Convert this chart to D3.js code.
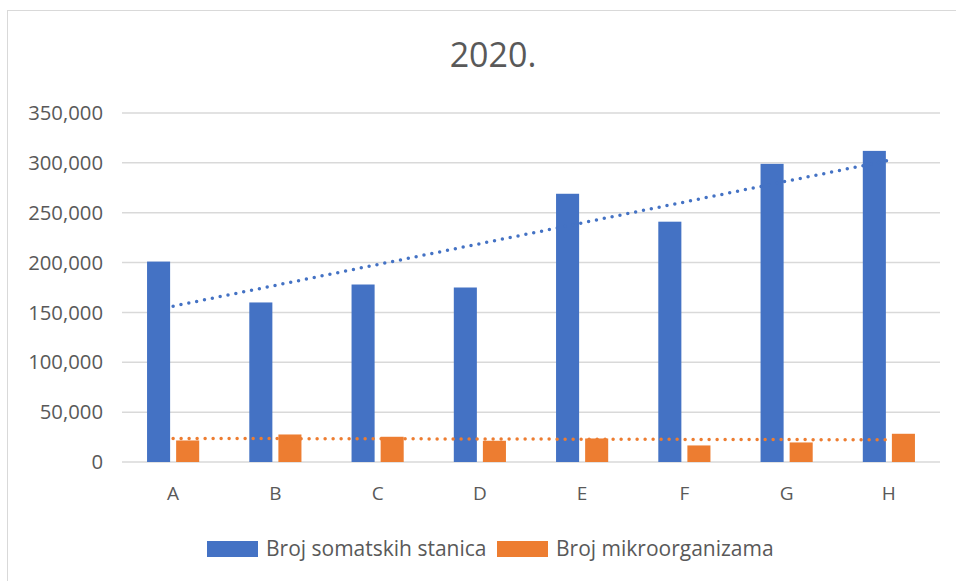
<!DOCTYPE html>
<html>
<head>
    <script src="https://d3js.org/d3.v7.min.js"></script>
    <title>2020.</title>
</head>
<style>
    body { margin: 0; background-color: white; }
    text { font-family: 'Open Sans', sans-serif; fill: #595959; }
</style>
<body>
<div id="chart"></div>
</body>
</html>

<script>
  // DATA
  var categories = ["A", "B", "C", "D", "E", "F", "G", "H"];
  var seriesNames = ["Broj somatskih stanica", "Broj mikroorganizama"];
  var somatske = [201000, 160000, 178000, 175000, 269000, 241000, 299000, 312000];
  var mikroorg = [21600, 27600, 25300, 21300, 23600, 16600, 19600, 28300];
  var yTicks = [0, 50000, 100000, 150000, 200000, 250000, 300000, 350000];
  var colors = ["#4472C4", "#ED7D31"];

  var width = 956, height = 581;
  var svg = d3.select("#chart").append("svg")
      .attr("width", width)
      .attr("height", height)
      .style("display", "block");

  // chart frame
  svg.append("rect")
      .attr("x", 7.5).attr("y", 10.5)
      .attr("width", 960).attr("height", 590)
      .attr("fill", "white")
      .attr("stroke", "#d9d9d9");

  //SCALES
  var x0 = d3.scaleBand().domain(categories).range([122, 940]);
  var groupW = x0.bandwidth() * 0.51;
  var x1 = d3.scaleBand().domain(seriesNames).range([0, groupW]).paddingInner(0.207);
  var y = d3.scaleLinear().domain([0, 350000]).range([462, 113]);

  //GRIDLINES
  svg.selectAll(".grid")
      .data(yTicks)
      .enter()
      .append("line")
      .attr("x1", 122).attr("x2", 940)
      .attr("y1", function(d) { return y(d); })
      .attr("y2", function(d) { return y(d); })
      .attr("stroke", "#d9d9d9")
      .attr("stroke-width", 1.5);

  //Y AXIS LABELS
  var fmt = d3.format(",");
  svg.selectAll(".ylab")
      .data(yTicks)
      .enter()
      .append("text")
      .attr("x", 103)
      .attr("y", function(d) { return y(d); })
      .attr("dy", "0.35em")
      .attr("text-anchor", "end")
      .style("font-size", "20.3px")
      .text(function(d) { return fmt(d); });

  //X AXIS LABELS
  svg.selectAll(".xlab")
      .data(categories)
      .enter()
      .append("text")
      .attr("x", function(d) { return x0(d) + x0.bandwidth() / 2; })
      .attr("y", 493)
      .attr("dy", "0.35em")
      .attr("text-anchor", "middle")
      .style("font-size", "19px")
      .text(function(d) { return d; });

  //BARS
  var seriesData = [somatske, mikroorg];
  seriesData.forEach(function(values, si) {
      svg.selectAll(".bar" + si)
          .data(values)
          .enter()
          .append("rect")
          .attr("x", function(d, i) {
              return x0(categories[i]) + (x0.bandwidth() - groupW) / 2 + x1(seriesNames[si]);
          })
          .attr("y", function(d) { return y(d); })
          .attr("width", x1.bandwidth())
          .attr("height", function(d) { return y(0) - y(d); })
          .attr("fill", colors[si]);
  });

  //TRENDLINES (linear least squares)
  function trend(values) {
      var n = values.length;
      var mx = d3.mean(values, function(d, i) { return i; });
      var my = d3.mean(values);
      var num = 0, den = 0;
      values.forEach(function(v, i) { num += (i - mx) * (v - my); den += (i - mx) * (i - mx); });
      var slope = num / den;
      return [0, n - 1].map(function(i) { return { i: i, v: my + slope * (i - mx) }; });
  }

  var trendLine = d3.line()
      .x(function(d) { return x0(categories[d.i]) + x0.bandwidth() / 2; })
      .y(function(d) { return y(d.v); });

  seriesData.forEach(function(values, si) {
      svg.append("path")
          .attr("d", trendLine(trend(values)))
          .attr("fill", "none")
          .attr("stroke", colors[si])
          .attr("stroke-width", 3.5)
          .attr("stroke-linecap", "round")
          .attr("stroke-dasharray", "0 8");
  });

  //TITLE
  svg.append("text")
      .attr("x", 493)
      .attr("y", 55)
      .attr("dy", "0.35em")
      .attr("text-anchor", "middle")
      .style("font-size", "34px")
      .text("2020.");

  //LEGEND
  var legendX = [207, 497];
  var legend = svg.selectAll(".legend")
      .data(seriesNames)
      .enter()
      .append("g")
      .attr("transform", function(d, i) { return "translate(" + legendX[i] + ",541)"; });

  legend.append("rect")
      .attr("width", 51)
      .attr("height", 16)
      .attr("fill", function(d, i) { return colors[i]; });

  legend.append("text")
      .attr("x", 59)
      .attr("y", 8)
      .attr("dy", "0.35em")
      .style("font-size", "21px")
      .text(function(d) { return d; });
</script>
